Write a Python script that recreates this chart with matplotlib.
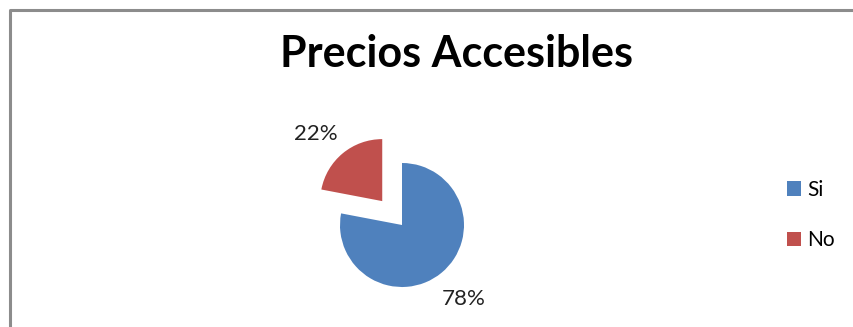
import matplotlib.pyplot as plt
from matplotlib.lines import Line2D

# Encuesta: precios accesibles
labels = ["Si", "No"]
values = [78, 22]
colors = ["#4F81BD", "#C0504D"]

W, H = 854, 327
R = 62  # pie radius in pixels
explode = [0, 0.5 * R]

fig = plt.figure(figsize=(W / 100, H / 100), dpi=100)
ax = fig.add_axes([0, 0, 1, 1])

# chart frame (only top and left edges visible)
ax.add_line(Line2D([10, 10, W], [0, H - 10, H - 10], color="#8c8c8c", lw=2.2))

wedges, texts, autotexts = ax.pie(
    values,
    colors=colors,
    explode=explode,
    startangle=90,
    counterclock=False,
    center=(402, 102),
    radius=R,
    autopct="%1.0f%%",
    pctdistance=1.55,
    textprops={"fontsize": 16, "family": "Lato", "color": "#222222"},
    frame=True,
)
# nudge the small slice's label a little lower
x, y = autotexts[1].get_position()
autotexts[1].set_position((x - 5, y - 7))

ax.set_xlim(0, W)
ax.set_ylim(0, H)
ax.set_aspect("equal")
ax.axis("off")

ax.text(457, 260, "Precios Accesibles", ha="center", va="baseline",
        fontsize=31, fontweight="bold", family="Lato")

leg = ax.legend(wedges, labels, loc="center left", bbox_to_anchor=(768 / W, 1 - 215 / H),
                frameon=False, prop={"family": "Lato", "size": 15},
                handlelength=0.7, handleheight=0.7, handletextpad=0.3,
                labelspacing=1.45)

fig.savefig("out.png", dpi=100)
